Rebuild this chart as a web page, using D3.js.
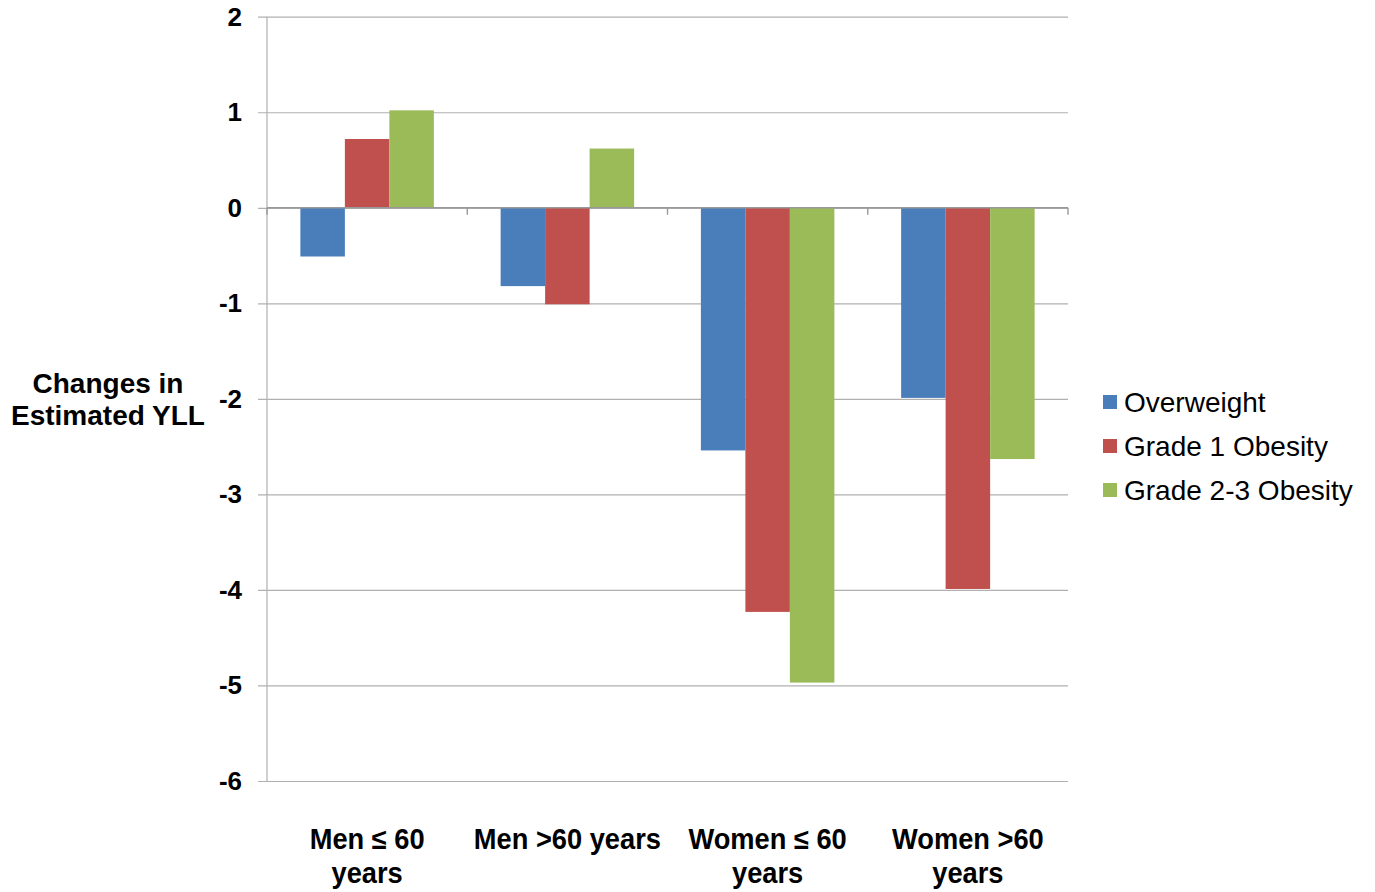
<!DOCTYPE html>
<html><head><meta charset="utf-8">
<script src="https://cdn.jsdelivr.net/npm/d3@7"></script>
<style>body{margin:0;background:#fff}svg{display:block}</style>
</head><body>
<svg id="c" width="1375" height="892"></svg>
<script>
const categories = [["Men \u2264 60","years"],["Men >60 years"],["Women \u2264 60","years"],["Women >60","years"]];
const seriesNames = ["Overweight","Grade 1 Obesity","Grade 2-3 Obesity"];
const overweight = [-0.51, -0.82, -2.54, -1.99];
const grade1 = [0.72, -1.01, -4.23, -3.99];
const grade23 = [1.02, 0.62, -4.97, -2.63];
const yTicks = [2,1,0,-1,-2,-3,-4,-5,-6];
const colors = ["#4A7EBB","#C0504D","#9BBB59"];

(function(){
const series = [overweight, grade1, grade23];
const svg = d3.select("#c");
const pL = 267, pR = 1068, pT = 16.7, pB = 781;
const y = d3.scaleLinear().domain([-6,2]).range([pB, pT]);
const x = d3.scaleBand().domain(d3.range(categories.length)).range([pL,pR]).paddingInner(0).paddingOuter(0);
const inner = d3.scaleBand().domain(d3.range(3)).range([0, x.bandwidth()]).paddingOuter(0.75).paddingInner(0);

const yAxis = d3.axisLeft(y).tickValues(yTicks).tickSize(-(pR-pL)).tickPadding(25).tickFormat(d => String(d));
const gy = svg.append("g").attr("transform",`translate(${pL},0)`).call(yAxis);
gy.select(".domain").remove();
gy.selectAll(".tick line").attr("stroke","#b0b0b0").attr("stroke-width",1.2).attr("x1",-9);
gy.selectAll(".tick text").attr("font-family","Liberation Sans, Arial, sans-serif").attr("font-weight","bold").attr("font-size",26).attr("fill","#000");

svg.append("line").attr("x1",pL).attr("x2",pL).attr("y1",pT).attr("y2",pB).attr("stroke","#b0b0b0").attr("stroke-width",1.2);

series.forEach((vals,si)=>{
  svg.append("g").selectAll("rect").data(vals).join("rect")
    .attr("x",(d,i)=>x(i)+inner(si))
    .attr("width",inner.bandwidth())
    .attr("y",d=>y(Math.max(0,d)))
    .attr("height",d=>Math.abs(y(d)-y(0)))
    .attr("fill",colors[si]);
});

svg.append("line").attr("x1",pL).attr("x2",pR).attr("y1",y(0)).attr("y2",y(0)).attr("stroke","#999").attr("stroke-width",1.4);
svg.append("g").selectAll("line").data(d3.range(categories.length+1)).join("line")
  .attr("x1",i=>i<categories.length?x(i):pR).attr("x2",i=>i<categories.length?x(i):pR)
  .attr("y1",y(0)).attr("y2",y(0)+7).attr("stroke","#999").attr("stroke-width",1.4);

const cl = svg.append("g").selectAll("text").data(categories).join("text")
  .attr("font-family","Liberation Sans, Arial, sans-serif").attr("font-weight","bold").attr("font-size",29)
  .attr("text-anchor","middle")
  .attr("transform",(d,i)=>`translate(${x(i)+x.bandwidth()/2},849) scale(0.94,1)`);
cl.selectAll("tspan").data(d=>d).join("tspan").attr("x",0).attr("dy",(d,j)=>j===0?0:34).text(d=>d);

svg.append("text").attr("font-family","Liberation Sans, Arial, sans-serif").attr("font-weight","bold").attr("font-size",28)
  .attr("text-anchor","middle")
  .selectAll("tspan").data(["Changes in","Estimated YLL"]).join("tspan")
  .attr("x",108).attr("y",(d,j)=>393+j*32).text(d=>d);

const lg = svg.append("g").selectAll("g").data(seriesNames).join("g")
  .attr("transform",(d,i)=>`translate(1103,${402+i*44})`);
lg.append("rect").attr("x",0).attr("y",-7).attr("width",14).attr("height",14).attr("fill",(d,i)=>colors[i]);
lg.append("text").attr("x",21).attr("y",9.5).attr("font-family","Liberation Sans, Arial, sans-serif").attr("font-size",28).text(d=>d);
})();
</script>
</body></html>
